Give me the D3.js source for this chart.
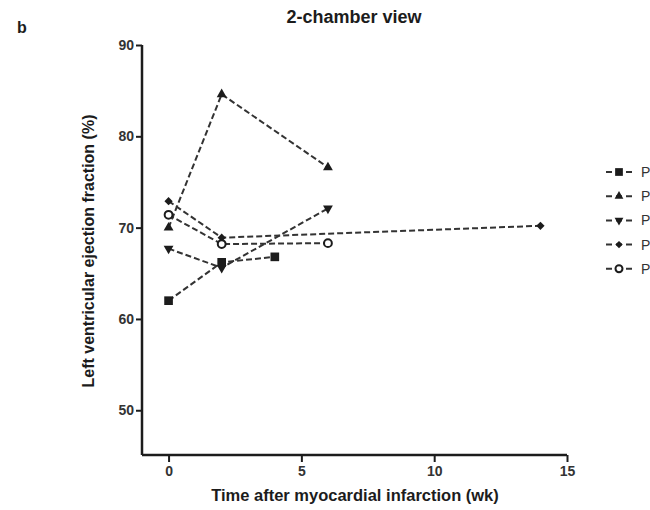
<!DOCTYPE html>
<html>
<head>
<meta charset="utf-8">
<script src="https://cdn.jsdelivr.net/npm/d3@7"></script>
<style>
  body { margin: 0; background: #fff; }
  svg { display: block; font-family: "Liberation Sans", Arial, sans-serif; }
</style>
</head>
<body>
<svg id="chart"></svg>
<script>
const width = 650
const height = 510

// data
const seriesNames = ["P1", "P2", "P3", "P4", "P5"]
const seriesMarkers = ["square", "triangle", "triangleDown", "diamond", "circle"]
const weeks1 = [0, 2, 4]
const lvef1 = [62.0, 66.2, 66.8]
const weeks2 = [0, 2, 6]
const lvef2 = [70.0, 84.6, 76.6]
const weeks3 = [0, 2, 6]
const lvef3 = [67.7, 65.6, 72.1]
const weeks4 = [0, 2, 14]
const lvef4 = [72.9, 68.9, 70.2]
const weeks5 = [0, 2, 6]
const lvef5 = [71.4, 68.2, 68.3]
const xTicks = [0, 5, 10, 15]
const yTicks = [50, 60, 70, 80, 90]

const allWeeks = [weeks1, weeks2, weeks3, weeks4, weeks5]
const allLvef = [lvef1, lvef2, lvef3, lvef4, lvef5]
const series = seriesNames.map((name, i) => ({
    name: name,
    marker: seriesMarkers[i],
    points: allWeeks[i].map((w, j) => ({ x: w, y: allLvef[i][j] }))
}))

const marginLeft = 142
const marginTop = 45
const plotRight = 567
const plotBottom = 455
const ink = "#1c1c1c"

const xScale = d3.scaleLinear()
    .domain([-1, 15])
    .range([marginLeft, plotRight])

const yScale = d3.scaleLinear()
    .domain([45.1, 90])
    .range([plotBottom, marginTop])

const svg = d3.select("#chart")
    .attr("width", width)
    .attr("height", height)

const drawMarker = (g, m, k) => {
    k = k || 1
    let path
    if (m === "square") {
        path = g.append("path").attr("d", d3.symbol(d3.symbolSquare, 75 * k)())
    } else if (m === "triangle" || m === "triangleDown") {
        path = g.append("path").attr("d", d3.symbol(d3.symbolTriangle, 42 * k)())
        if (m === "triangleDown") path.attr("transform", "rotate(180)")
    } else if (m === "diamond") {
        path = g.append("path").attr("d", d3.symbol(d3.symbolSquare, 34 * k)())
            .attr("transform", "rotate(45)")
    } else {
        path = g.append("path").attr("d", d3.symbol(d3.symbolCircle, 48 * k)())
    }
    if (m === "circle") {
        path.attr("fill", "#fff").attr("stroke", ink).attr("stroke-width", 2)
    } else {
        path.attr("fill", ink)
    }
}

// axes
const yAxis = d3.axisLeft(yScale).tickValues(yTicks).tickSize(6).tickPadding(2)
const xAxis = d3.axisBottom(xScale).tickValues(xTicks).tickSize(7).tickPadding(4)

const gy = svg.append("g")
    .attr("transform", `translate(${marginLeft},0)`)
    .call(yAxis)
gy.select(".domain").attr("d", `M0,${marginTop}V${plotBottom}`)

const gx = svg.append("g")
    .attr("transform", `translate(0,${plotBottom})`)
    .call(xAxis)
gx.select(".domain").attr("d", `M${marginLeft},0H${plotRight}`)

svg.selectAll(".domain").attr("stroke", ink).attr("stroke-width", 2.5)
svg.selectAll(".tick line").attr("stroke", ink).attr("stroke-width", 2)
svg.selectAll(".tick text")
    .attr("fill", "#333")
    .style("font-size", "14px")
    .style("font-weight", "bold")

// lines
const line = d3.line().x(d => xScale(d.x)).y(d => yScale(d.y))

const groups = svg.selectAll(".series")
    .data(series)
    .enter()
    .append("g")
    .attr("class", "series")

groups.append("path")
    .attr("d", d => line(d.points))
    .attr("fill", "none")
    .attr("stroke", "#333")
    .attr("stroke-width", 2)
    .attr("stroke-dasharray", "6,3")

groups.each(function(s) {
    const g = d3.select(this)
    s.points.forEach(p => {
        const mg = g.append("g").attr("transform", `translate(${xScale(p.x)},${yScale(p.y)})`)
        drawMarker(mg, s.marker)
    })
})

// legend
const legend = svg.append("g").attr("id", "legend")
series.forEach((s, i) => {
    const ly = 172 + i * 24.2
    const row = legend.append("g").attr("transform", `translate(606,${ly})`)
    row.append("line")
        .attr("x1", 0).attr("x2", 26)
        .attr("stroke", "#333")
        .attr("stroke-width", 2)
        .attr("stroke-dasharray", "6,4")
    const mg = row.append("g").attr("transform", "translate(13,0)")
    drawMarker(mg, s.marker, 0.8)
    row.append("text")
        .attr("x", 35)
        .attr("y", 5)
        .style("font-size", "14px")
        .attr("fill", "#333")
        .text(s.name)
})

// titles
svg.append("text")
    .attr("x", 354)
    .attr("y", 23)
    .attr("text-anchor", "middle")
    .style("font-size", "18px")
    .style("font-weight", "bold")
    .attr("fill", "#1c1c1c")
    .text("2-chamber view")

svg.append("text")
    .attr("x", 17)
    .attr("y", 33)
    .style("font-size", "16px")
    .style("font-weight", "bold")
    .attr("fill", "#1c1c1c")
    .text("b")

svg.append("text")
    .attr("x", 355)
    .attr("y", 501)
    .attr("text-anchor", "middle")
    .style("font-size", "16.5px")
    .style("font-weight", "bold")
    .attr("fill", "#1c1c1c")
    .text("Time after myocardial infarction (wk)")

svg.append("text")
    .attr("transform", `translate(94,251) rotate(-90)`)
    .attr("text-anchor", "middle")
    .style("font-size", "16px")
    .style("font-weight", "bold")
    .attr("fill", "#1c1c1c")
    .text("Left ventricular ejection fraction (%)")
</script>
</body>
</html>
